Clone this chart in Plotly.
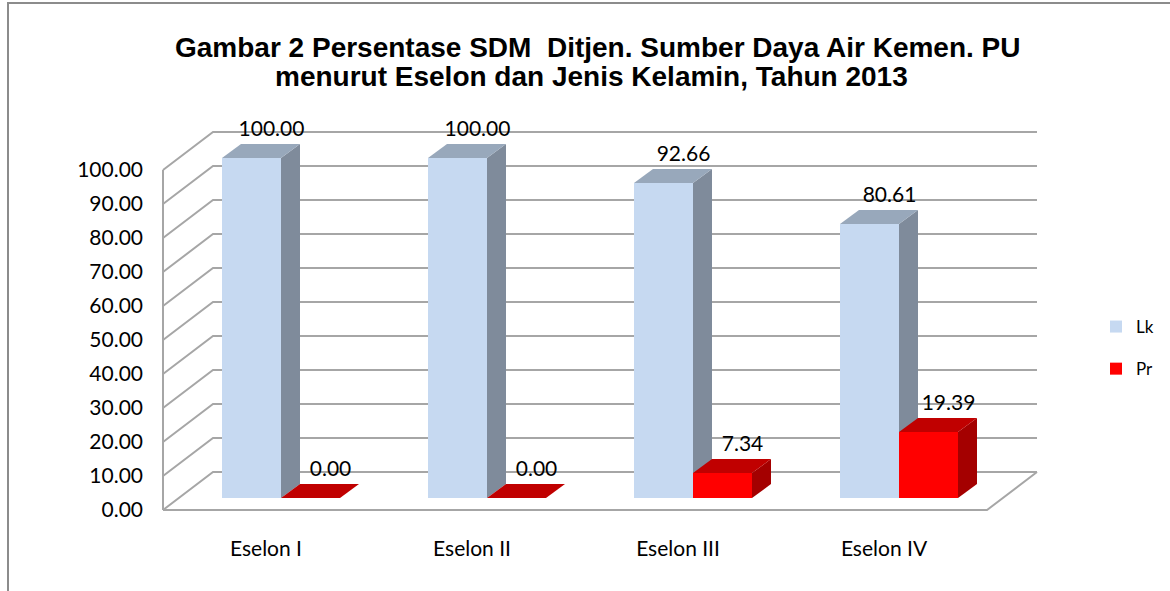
import plotly.graph_objects as go

# ---------------- data ----------------
categories = ["Eselon I", "Eselon II", "Eselon III", "Eselon IV"]
series_names = ["Lk", "Pr"]
lk_values = [100.00, 100.00, 92.66, 80.61]
pr_values = [0.00, 0.00, 7.34, 19.39]
y_ticks = [0, 10, 20, 30, 40, 50, 60, 70, 80, 90, 100]
title_line1 = "Gambar 2 Persentase SDM  Ditjen. Sumber Daya Air Kemen. PU"
title_line2 = "menurut Eselon dan Jenis Kelamin, Tahun 2013"

# ---------------- geometry / style ----------------
W, H = 1170, 591
X0_PX, CAT_PX = 163, 206      # front-plane left edge, px per category
Y0_PX, UNIT_PX = 510, 3.4     # front-plane zero line, px per value unit


def dx(px):
    return px / CAT_PX


def dv(px):
    return px / UNIT_PX


BACK = (dx(50), dv(38))        # back wall offset
BAR_PLANE = (dx(16), dv(12))   # plane of bar front faces
DEPTH = (dx(19), dv(14))       # bar depth
LK_OFF = dx(43)
BAR_W = dx(59)
LABEL_DX = dx(20)
LABEL_DV = dv(13)

GRID = "#A6A6A6"
COLORS = {
    "Lk": {"front": "#C6D9F1", "top": "#98A8BB", "side": "#7F8B9B"},
    "Pr": {"front": "#FF0000", "top": "#C00000", "side": "#A40000"},
}
FONT = "Lato"

n = len(categories)
x_range = [-X0_PX / CAT_PX, (W - X0_PX) / CAT_PX]
y_range = [-(H - Y0_PX) / UNIT_PX, Y0_PX / UNIT_PX]

fig = go.Figure()

# ---------------- walls / grid ----------------
gx, gy = [], []
for t in y_ticks:
    gx += [0, BACK[0], n + BACK[0], None]
    gy += [t, t + BACK[1], t + BACK[1], None]
# vertical front axis line
gx += [0, 0, None]
gy += [y_ticks[0], y_ticks[-1], None]
# floor front edge and right diagonal
gx += [0, n, n + BACK[0], None]
gy += [0, 0, BACK[1], None]
fig.add_trace(go.Scatter(x=gx, y=gy, mode="lines",
                         line=dict(color=GRID, width=2),
                         hoverinfo="skip", showlegend=False))


def face(xs, ys, color):
    fig.add_trace(go.Scatter(x=xs + [xs[0]], y=ys + [ys[0]], mode="lines",
                             fill="toself", fillcolor=color,
                             line=dict(width=0, color=color),
                             hoverinfo="skip", showlegend=False))


label_x, label_y, label_t = [], [], []
for i in range(n):
    for s, (name, vals) in enumerate(zip(series_names, [lk_values, pr_values])):
        v = vals[i]
        c = COLORS[name]
        x0 = i + LK_OFF + s * BAR_W + BAR_PLANE[0]
        x1 = x0 + BAR_W
        b = BAR_PLANE[1]
        top = b + v
        ddx, ddv = DEPTH
        if v > 0:
            face([x0, x1, x1, x0], [b, b, top, top], c["front"])
            face([x1, x1 + ddx, x1 + ddx, x1], [b, b + ddv, top + ddv, top], c["side"])
        face([x0, x1, x1 + ddx, x0 + ddx], [top, top, top + ddv, top + ddv], c["top"])
        label_x.append((x0 + x1) / 2 + LABEL_DX)
        label_y.append(top + ddv + LABEL_DV)
        label_t.append(f"{v:.2f}")

fig.add_trace(go.Scatter(x=label_x, y=label_y, text=label_t, mode="text",
                         textposition="middle center",
                         textfont=dict(family=FONT, size=21, color="black"),
                         hoverinfo="skip", showlegend=False))

# legend entries
for k, name in enumerate(series_names):
    fig.add_trace(go.Scatter(x=[None], y=[None], mode="markers", name=name,
                             legendgroup=name,
                             marker=dict(symbol="square", size=12,
                                         color=COLORS[name]["front"])))

fig.update_layout(
    width=W, height=H,
    margin=dict(l=0, r=0, t=0, b=0),
    paper_bgcolor="white", plot_bgcolor="white",
    xaxis=dict(range=x_range, tickvals=[i + 0.5 for i in range(n)],
               ticktext=categories, showgrid=False, zeroline=False,
               showline=False, ticks="", anchor="free",
               position=(H - Y0_PX) / H, ticklabelstandoff=24,
               tickfont=dict(family=FONT, size=21, color="black"),
               fixedrange=True),
    yaxis=dict(range=y_range, tickvals=y_ticks, tickformat=".2f",
               showgrid=False, zeroline=False, showline=False, ticks="",
               anchor="free", position=X0_PX / W, ticklabelstandoff=20,
               tickfont=dict(family=FONT, size=21, color="black"),
               fixedrange=True),
    legend=dict(x=1096 / W, y=1 - 309 / H, xanchor="left", yanchor="top",
                font=dict(family=FONT, size=17, color="black"),
                tracegroupgap=17, bgcolor="rgba(0,0,0,0)"),
    showlegend=True,
    shapes=[dict(type="rect", xref="paper", yref="paper",
                 x0=8 / W, x1=1.02, y0=-0.02, y1=1 - 3 / H,
                 line=dict(color="#8C8C8C", width=2), layer="below")],
    annotations=[
        dict(text=title_line1, xref="paper", yref="paper", x=597 / W, y=1 - 47 / H,
             xanchor="center", yanchor="middle", showarrow=False,
             font=dict(family="Liberation Sans", size=28, color="black", weight="bold")),
        dict(text=title_line2, xref="paper", yref="paper", x=591 / W, y=1 - 76 / H,
             xanchor="center", yanchor="middle", showarrow=False,
             font=dict(family="Liberation Sans", size=28, color="black", weight="bold")),
    ],
)

fig.write_html("out.html", config={"displayModeBar": False},
               post_script="document.body.style.margin='0px';")
